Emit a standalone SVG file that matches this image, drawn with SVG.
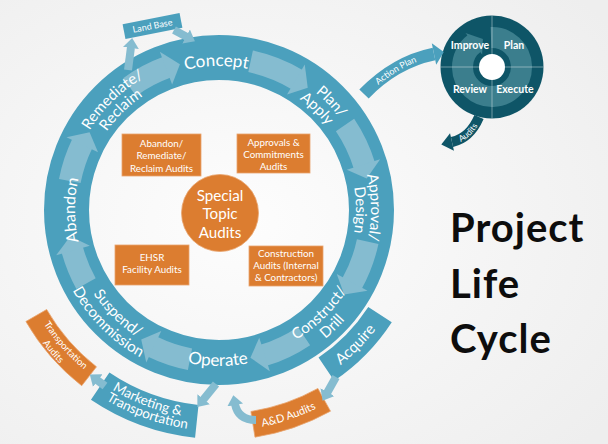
<svg xmlns="http://www.w3.org/2000/svg" width="608" height="444" viewBox="0 0 608 444">
  <style>
    .ring { fill: none; stroke: #4ba0bd; }
    .band { fill: #4ba0bd; }
    .flow { fill: none; stroke: #85bcd0; stroke-width: 22; }
    .flowhead { fill: #85bcd0; }
    .lbl { font-family: Lato, "Open Sans", sans-serif; fill: #ffffff; text-anchor: middle; }
    .stage { font-size: 15px; }
    .audit rect, .audit path { fill: #dc7d30; stroke: #e9a46e; stroke-width: 0.8; }
    .audit text { font-family: Lato, "Open Sans", sans-serif; font-size: 9.8px; fill: #ffffff; text-anchor: middle; }
    .link { fill: none; stroke: #85bcd0; stroke-width: 8; marker-end: url(#lh); }
    .pdca-lbl { font-family: Lato, "Open Sans", sans-serif; font-weight: bold; font-size: 10.5px; fill: #ffffff; text-anchor: middle; }
    .title { font-family: Lato, "Open Sans", sans-serif; font-weight: bold; font-size: 40px; fill: #0d0d0d; letter-spacing: 1px; }
  </style>
  <defs>
    <radialGradient id="bg" cx="0.4" cy="0.5" r="0.75">
      <stop offset="0" stop-color="#fdfdfd"/>
      <stop offset="1" stop-color="#eeeeee"/>
    </radialGradient>
    <marker id="lh" markerUnits="userSpaceOnUse" viewBox="0 0 10 16" markerWidth="10" markerHeight="16" refX="1" refY="8" orient="auto">
      <path d="M0,0 L10,8 L0,16 Z" fill="#85bcd0"/>
    </marker>
    <!-- upper label arcs, centred at 12 o'clock of the cycle (rotated into place) -->
    <path id="t137" d="M100.36,141.5 A137,137 0 0 1 337.64,141.5"/>
    <path id="t144" d="M94.30,138 A144,144 0 0 1 343.70,138"/>
    <path id="t152" d="M87.37,134 A152,152 0 0 1 350.63,134"/>
    <!-- lower label arcs, centred at 6 o'clock, reading left to right -->
    <path id="b151" d="M88.23,285.5 A151,151 0 0 0 349.77,285.5"/>
    <path id="b156" d="M83.90,288 A156,156 0 0 0 354.10,288"/>
    <path id="b167" d="M74.38,293.5 A167,167 0 0 0 363.62,293.5"/>
    <path id="b197" d="M48.40,308.5 A197,197 0 0 0 389.60,308.5"/>
    <path id="b209" d="M38.00,314.5 A209,209 0 0 0 400.00,314.5"/>
    <path id="b221" d="M27.61,320.5 A221,221 0 0 0 410.39,320.5"/>
    <!-- label paths for the PDCA side arrows -->
    <path id="actionPath" d="M366.5,96.4 Q396.6,65 432.7,57.4"/>
    <path id="auditsPath" d="M452.65,144.9 Q471.8,140.1 481.76,118.18"/>
  </defs>

  <rect width="608" height="444" fill="url(#bg)"/>

  <!-- main life-cycle ring with clockwise flow arrows -->
  <g id="ring">
    <circle class="ring" cx="219" cy="210" r="152.5" stroke-width="45"/>
    <g id="ring-flow">
      <circle class="flow" cx="219" cy="210" r="152" stroke-dasharray="42.45 2000" transform="rotate(234 219 210)"/>
      <polygon class="flowhead" points="352.4,197.2 387.2,193.8 370,210" transform="rotate(255 219 210)"/>
      <circle class="flow" cx="219" cy="210" r="152" stroke-dasharray="50.41 2000" transform="rotate(282 219 210)"/>
      <polygon class="flowhead" points="352.4,197.2 387.2,193.8 370,210" transform="rotate(306 219 210)"/>
      <circle class="flow" cx="219" cy="210" r="152" stroke-dasharray="45.10 2000" transform="rotate(326 219 210)"/>
      <polygon class="flowhead" points="352.4,197.2 387.2,193.8 370,210" transform="rotate(348 219 210)"/>
      <circle class="flow" cx="219" cy="210" r="152" stroke-dasharray="45.10 2000" transform="rotate(12 219 210)"/>
      <polygon class="flowhead" points="352.4,197.2 387.2,193.8 370,210" transform="rotate(34 219 210)"/>
      <circle class="flow" cx="219" cy="210" r="152" stroke-dasharray="45.10 2000" transform="rotate(56 219 210)"/>
      <polygon class="flowhead" points="352.4,197.2 387.2,193.8 370,210" transform="rotate(78 219 210)"/>
      <circle class="flow" cx="219" cy="210" r="152" stroke-dasharray="39.79 2000" transform="rotate(101 219 210)"/>
      <polygon class="flowhead" points="352.4,197.2 387.2,193.8 370,210" transform="rotate(121 219 210)"/>
      <circle class="flow" cx="219" cy="210" r="152" stroke-dasharray="37.14 2000" transform="rotate(151 219 210)"/>
      <polygon class="flowhead" points="352.4,197.2 387.2,193.8 370,210" transform="rotate(170 219 210)"/>
      <circle class="flow" cx="219" cy="210" r="152" stroke-dasharray="39.79 2000" transform="rotate(191 219 210)"/>
      <polygon class="flowhead" points="352.4,197.2 387.2,193.8 370,210" transform="rotate(211 219 210)"/>
    </g>
  </g>

  <!-- stage labels on the ring -->
  <g id="stage-concept">
    <text class="lbl" font-size="17" transform="rotate(-1 219 210)"><textPath href="#t144" startOffset="50%">Concept</textPath></text>
  </g>
  <g id="stage-plan-apply">
    <text class="lbl stage" transform="rotate(46 219 210)"><textPath href="#t152" startOffset="50%">Plan/</textPath></text>
    <text class="lbl stage" transform="rotate(44 219 210)"><textPath href="#t137" startOffset="50%">Apply</textPath></text>
  </g>
  <g id="stage-approval-design">
    <text class="lbl stage" transform="rotate(89 219 210)"><textPath href="#t152" startOffset="50%">Approval/</textPath></text>
    <text class="lbl stage" transform="rotate(90 219 210)"><textPath href="#t137" startOffset="50%">Design</textPath></text>
  </g>
  <g id="stage-construct-drill">
    <text class="lbl stage" transform="rotate(-44.2 219 210)"><textPath href="#b151" startOffset="50%">Construct/</textPath></text>
    <text class="lbl stage" transform="rotate(-44.2 219 210)"><textPath href="#b167" startOffset="50%">Drill</textPath></text>
  </g>
  <g id="stage-operate">
    <text class="lbl" font-size="17" transform="rotate(0.4 219 210)"><textPath href="#b156" startOffset="50%">Operate</textPath></text>
  </g>
  <g id="stage-suspend">
    <text class="lbl stage" transform="rotate(44.4 219 210)"><textPath href="#b151" startOffset="50%">Suspend/</textPath></text>
    <text class="lbl stage" transform="rotate(44.7 219 210)"><textPath href="#b167" startOffset="50%">Decommission</textPath></text>
  </g>
  <g id="stage-abandon">
    <text class="lbl" font-size="16" transform="rotate(-90 219 210)"><textPath href="#t144" startOffset="50%">Abandon</textPath></text>
  </g>
  <g id="stage-remediate">
    <text class="lbl stage" transform="rotate(-44 219 210)"><textPath href="#t152" startOffset="50%">Remediate/</textPath></text>
    <text class="lbl stage" transform="rotate(-44.4 219 210)"><textPath href="#t137" startOffset="50%">Reclaim</textPath></text>
  </g>

  <!-- outer bands -->
  <g id="land-base">
    <g transform="translate(152.5,26) rotate(-11)">
      <rect class="band" x="-29" y="-7.5" width="58" height="15"/>
      <text class="lbl" x="0" y="3" font-size="9">Land Base</text>
    </g>
  </g>
  <g id="acquire">
    <path class="band" d="M391.77,322.19 A206,206 0 0 1 334.20,380.77 L318.54,357.56 A178,178 0 0 0 368.29,306.94 Z"/>
    <text class="lbl stage" transform="rotate(-45.4 219 210)"><textPath href="#b197" startOffset="50%">Acquire</textPath></text>
  </g>
  <g id="marketing">
    <path class="band" d="M195.07,437.74 A229,229 0 0 1 90.94,399.84 L109.40,372.48 A196,196 0 0 0 198.52,404.92 Z"/>
    <text class="lbl" font-size="13.5" transform="rotate(20.6 219 210)"><textPath href="#b209" startOffset="50%">Marketing &amp;</textPath></text>
    <text class="lbl" font-size="13.5" transform="rotate(19.5 219 210)"><textPath href="#b221" startOffset="50%">Transportation</textPath></text>
  </g>
  <g id="transport-audits" class="audit">
    <path d="M81.70,385.72 A223,223 0 0 1 25.88,321.5 L46.67,309.5 A199,199 0 0 0 96.48,366.81 Z"/>
    <text style="font-size:9.5px" transform="rotate(48.6 219 210)"><textPath href="#b209" startOffset="50%">Transportation</textPath></text>
    <text style="font-size:9.5px" transform="rotate(49.5 219 210)"><textPath href="#b221" startOffset="50%">Audits</textPath></text>
  </g>
  <g id="ad-audits" class="audit">
    <path d="M330.50,411.16 A230,230 0 0 1 254.97,437.17 L250.91,411.49 A204,204 0 0 0 317.90,388.42 Z"/>
    <text style="font-size:11px" transform="rotate(-18.7 219 210)"><textPath href="#b221" startOffset="50%">A&amp;D Audits</textPath></text>
  </g>

  <!-- audit boxes inside the ring -->
  <g id="audit-abandon" class="audit">
    <rect x="122" y="134" width="79" height="42"/>
    <text x="161.5" y="146.8">Abandon/</text>
    <text x="161.5" y="159.2">Remediate/</text>
    <text x="161.5" y="171.8">Reclaim Audits</text>
  </g>
  <g id="audit-approvals" class="audit">
    <rect x="237" y="134" width="73" height="39"/>
    <text x="273.5" y="146">Approvals &amp;</text>
    <text x="273.5" y="157.7">Commitments</text>
    <text x="273.5" y="169.5">Audits</text>
  </g>
  <g id="audit-ehsr" class="audit">
    <rect x="115" y="245" width="74" height="40"/>
    <text x="152" y="260.7">EHSR</text>
    <text x="152" y="273.3">Facility Audits</text>
  </g>
  <g id="audit-construction" class="audit">
    <rect x="249" y="246" width="74" height="40"/>
    <text x="286" y="256.8">Construction</text>
    <text x="286" y="269">Audits (Internal</text>
    <text x="286" y="280.5">&amp; Contractors)</text>
  </g>
  <g id="special-topic">
    <circle cx="220" cy="213" r="38.5" fill="#dc7d30" stroke="#e9a46e" stroke-width="0.8"/>
    <text class="lbl" x="220" y="200.5" font-size="15.2">Special</text>
    <text class="lbl" x="220" y="219" font-size="15.2">Topic</text>
    <text class="lbl" x="220" y="237.5" font-size="15.2">Audits</text>
  </g>

  <!-- improvement cycle -->
  <g id="pdca">
    <circle cx="492" cy="67" r="51.5" fill="#0e5567"/>
    <circle cx="492" cy="67" r="29.5" fill="none" stroke="#3b7e8d" stroke-width="21" stroke-dasharray="167.3 2000" transform="rotate(268 492 67)"/>
    <polygon points="482.15,54.39 465.52,33.12 482.88,38.94" fill="#3b7e8d"/>
    <line x1="440.5" y1="67" x2="543.5" y2="67" stroke="#ffffff" stroke-opacity="0.4" stroke-width="1"/>
    <line x1="492" y1="15.5" x2="492" y2="118.5" stroke="#ffffff" stroke-opacity="0.4" stroke-width="1"/>
    <circle cx="492" cy="67" r="13" fill="#ffffff"/>
    <text class="pdca-lbl" x="470" y="48.5">Improve</text>
    <text class="pdca-lbl" x="514" y="48.5">Plan</text>
    <text class="pdca-lbl" x="470" y="92.7">Review</text>
    <text class="pdca-lbl" x="515" y="92.7">Execute</text>
  </g>

  <!-- connectors -->
  <g id="connectors">
    <path class="link" d="M128,70 L131,47"/>
    <path class="link" d="M174,30 L187,37"/>
    <path class="link" d="M216,384 L203,400"/>
    <path class="link" d="M105,386 L97,380"/>
    <path class="link" d="M336,377 L327,393"/>
    <path class="link" d="M256,420 Q238,420 235,404"/>
    <g id="action-plan">
      <path d="M364,94 Q395,62 434,54" fill="none" stroke="#4ba0bd" stroke-width="13"/>
      <polygon points="436.2,64.8 431.8,43.2 443.8,52" fill="#4ba0bd"/>
      <text class="lbl" font-size="9"><textPath href="#actionPath" startOffset="50%">Action Plan</textPath></text>
    </g>
    <g id="audits-out">
      <path d="M479,117 Q470,138 452,142" fill="none" stroke="#0e5567" stroke-width="10"/>
      <polygon points="453.95,150.78 450.05,133.22 441.3,144.4" fill="#0e5567"/>
      <text class="lbl" font-size="8.5"><textPath href="#auditsPath" startOffset="50%">Audits</textPath></text>
    </g>
  </g>

  <!-- title -->
  <g id="title">
    <text class="title" x="450" y="242" letter-spacing="1.8">Project</text>
    <text class="title" x="450" y="298">Life</text>
    <text class="title" x="450" y="353">Cycle</text>
  </g>
</svg>
